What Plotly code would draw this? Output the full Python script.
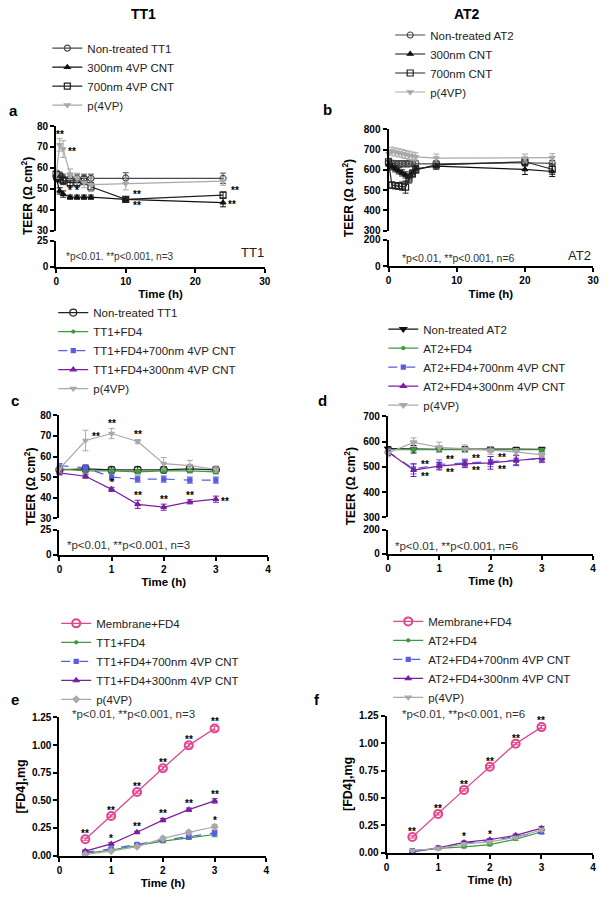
import plotly.graph_objects as go

W, H = 608, 900

# ---------------- data ----------------
# Panel a: TT1 TEER (0-24 h)
a_time = [0, 0.5, 1, 2, 3, 4, 5, 10, 24]
a_non = [56, 55, 55, 55, 55, 55, 55, 55.2, 55]
a_non_err = [2, 2, 2, 2, 2, 2, 2, 2.5, 2.5]
a_300 = [55, 49, 47.5, 46, 46, 46, 46, 45, 43.4]
a_300_err = [1.5, 1.5, 1.5, 1, 1, 1, 1, 1, 2]
a_700 = [57, 56, 54, 53, 53, 54, 51, 45, 47]
a_700_err = [1.5, 2, 2, 2, 2, 2, 2, 1, 1.5]
a_p4vp = [57, 71, 69, 57, 55, 53, 52, 52.5, 53.7]
a_p4vp_err = [2, 3, 4, 2.5, 2.5, 2.5, 3, 3, 2]
a_300_stars = ["", "", "", "*", "*", "", "", "**", "**"]
a_300_side = ["", "", "", "above", "above", "", "", "lr", "right"]
a_700_stars = ["", "", "", "", "", "", "", "**", "**"]
a_700_side = ["", "", "", "", "", "", "", "ur", "ur"]
a_p4vp_stars = ["", "**", "**", "", "", "", "", "", ""]
a_p4vp_side = ["", "above", "right", "", "", "", "", "", ""]

# Panel b: AT2 TEER (0-24 h)
b_time = [0, 0.5, 1, 1.5, 2, 2.5, 3, 3.5, 4, 7, 20, 24]
b_non = [635, 632, 630, 630, 630, 630, 630, 632, 632, 630, 635, 632]
b_non_err = [15, 15, 15, 15, 15, 15, 15, 15, 15, 15, 15, 15]
b_300 = [625, 615, 605, 595, 585, 575, 565, 585, 605, 618, 602, 592]
b_300_err = [15, 15, 15, 15, 15, 15, 15, 15, 15, 15, 25, 25]
b_700 = [640, 525, 522, 520, 520, 515, 555, 580, 600, 625, 640, 603]
b_700_err = [15, 15, 15, 15, 20, 30, 20, 15, 15, 15, 20, 25]
b_p4vp = [680, 692, 688, 684, 680, 676, 672, 668, 664, 658, 658, 660]
b_p4vp_err = [20, 20, 20, 20, 20, 20, 20, 20, 20, 20, 20, 20]

# Panel c: TT1 TEER (0-3 h)
c_time = [0, 0.5, 1, 1.5, 2, 2.5, 3]
c_non = [53.5, 54, 53.5, 53.5, 53.5, 54, 53.5]
c_non_err = [1.5, 1.5, 1.5, 1.5, 1.5, 1.5, 1.5]
c_fd4 = [54, 53, 53, 52.5, 53, 53, 52.5]
c_fd4_err = [1, 1, 1, 1, 1, 1, 1]
c_700 = [55.5, 54.5, 50, 49, 49, 48.5, 48.5]
c_700_err = [1, 1.5, 1.5, 1.5, 1.5, 1.5, 1.5]
c_300 = [52, 50.4, 44, 36.7, 35.3, 37.9, 39.2]
c_300_err = [1, 1, 1, 2, 1.5, 1, 1.5]
c_p4vp = [54, 67.8, 71.2, 67.3, 56.5, 55.6, 53.8]
c_p4vp_err = [2, 5, 2.5, 1, 3, 2.5, 1.5]
c_300_stars = ["", "", "*", "**", "**", "**", "**"]
c_300_side = ["", "", "above", "above", "above", "above", "right"]
c_p4vp_stars = ["", "**", "**", "**", "", "", ""]
c_p4vp_side = ["", "ur", "above", "above", "", "", ""]

# Panel d: AT2 TEER (0-3 h)
d_time = [0, 0.5, 1, 1.5, 2, 2.5, 3]
d_non = [573, 570, 570, 571, 570, 570, 570]
d_non_err = [8, 15, 10, 10, 10, 8, 8]
d_fd4 = [568, 568, 568, 568, 568, 568, 568]
d_fd4_err = [5, 5, 5, 5, 5, 5, 5]
d_700 = [560, 492, 510, 516, 521, 527, 532]
d_700_err = [15, 20, 18, 15, 20, 18, 15]
d_300 = [560, 487, 503, 512, 516, 525, 535]
d_300_err = [15, 25, 15, 15, 25, 20, 15]
d_p4vp = [555, 597, 578, 572, 565, 560, 548]
d_p4vp_err = [15, 18, 20, 15, 15, 12, 10]
d_700_stars = ["", "**", "**", "**", "**", "", ""]
d_700_side = ["", "ur", "ur", "ur", "ur", "", ""]
d_300_stars = ["", "**", "**", "**", "**", "", ""]
d_300_side = ["", "lr", "lr", "lr", "lr", "", ""]

# Panel e: TT1 FD4 permeation
e_time = [0.5, 1, 1.5, 2, 2.5, 3]
e_mem = [0.148, 0.358, 0.574, 0.789, 0.997, 1.149]
e_fd4 = [0.02, 0.05, 0.09, 0.13, 0.16, 0.19]
e_700 = [0.03, 0.06, 0.10, 0.14, 0.17, 0.205]
e_300 = [0.04, 0.105, 0.21, 0.32, 0.415, 0.494]
e_p4vp = [0.01, 0.04, 0.08, 0.155, 0.21, 0.26]
e_err = [0.01, 0.01, 0.01, 0.015, 0.015, 0.02]
e_mem_stars = ["**", "**", "**", "**", "**", "**"]
e_300_stars = ["", "*", "**", "**", "**", "**"]
e_p4vp_stars = ["", "", "", "", "", "*"]

# Panel f: AT2 FD4 permeation
f_time = [0.5, 1, 1.5, 2, 2.5, 3]
f_mem = [0.145, 0.355, 0.574, 0.785, 0.995, 1.146]
f_fd4 = [0.01, 0.04, 0.055, 0.075, 0.125, 0.19]
f_700 = [0.02, 0.045, 0.09, 0.11, 0.15, 0.19]
f_300 = [0.01, 0.045, 0.095, 0.12, 0.16, 0.225]
f_p4vp = [0.02, 0.04, 0.08, 0.1, 0.14, 0.21]
f_err = [0.01, 0.01, 0.01, 0.01, 0.01, 0.015]
f_mem_stars = ["**", "**", "**", "**", "**", "**"]
f_300_stars = ["", "", "*", "*", "", ""]

# ---------------- styles ----------------
FONT = "Liberation Sans, Arial, sans-serif"
PINK = "#E4448E"
GREEN = "#3C9A3C"
BLUE = "#5B5BE0"
PURPLE = "#7A1FA0"
LGRAY = "#A9A9A9"
DGRAY = "#4A4A4A"


def fx(px):
    return px / W


def fy(py):
    return 1 - py / H


fig = go.Figure()
annotations = []

# broken-axis panels: top axis -> bottom axis
BOTTOM = {"y2": ("x", "y"), "y4": ("x3", "y3"), "y6": ("x5", "y5"), "y8": ("x7", "y7")}


def axis_style(**kw):
    d = dict(showline=True, linecolor="black", linewidth=2, ticks="outside",
             ticklen=4, tickwidth=2, tickcolor="black", showgrid=False,
             zeroline=False,
             tickfont=dict(family=FONT, size=10, color="black", weight="bold"))
    d.update(kw)
    return d


def add_series(x, y, err, name, xa, ya, legend, color, symbol, size,
               dash="solid", lw=1.2, mlw=1.2):
    marker = dict(symbol=symbol, size=size, color=color,
                  line=dict(color=color, width=mlw))
    fig.add_trace(go.Scatter(
        x=x, y=y, mode="lines+markers", name=name, xaxis=xa, yaxis=ya,
        legend=legend, cliponaxis=False,
        line=dict(color=color, width=lw, dash=dash), marker=marker,
        error_y=dict(type="data", array=err, visible=err is not None,
                     color=color, thickness=1, width=3)))
    if ya in BOTTOM:
        bx, by = BOTTOM[ya]
        fig.add_trace(go.Scatter(
            x=x, y=y, mode="lines+markers", name=name, xaxis=bx, yaxis=by,
            showlegend=False, cliponaxis=True, hoverinfo="skip",
            line=dict(color=color, width=lw, dash=dash), marker=marker))


def add_stars(x, y, err, stars, sides, xa, ya, dx):
    for i, s in enumerate(stars):
        if not s:
            continue
        side = sides[i] if sides else "above"
        e = err[i] if err else 0
        a = dict(text=s, xref=xa, yref=ya, showarrow=False,
                 font=dict(family=FONT, size=10, color="#000", weight="bold"))
        if side == "above":
            a.update(x=x[i], y=y[i] + e, xanchor="center", yanchor="bottom", yshift=-3)
        elif side == "right":
            a.update(x=x[i], y=y[i], xanchor="left", yanchor="middle", xshift=3, yshift=-2)
        elif side == "ur":
            a.update(x=x[i] + dx, y=y[i], xanchor="left", yanchor="bottom", yshift=-3)
        elif side == "lr":
            a.update(x=x[i] + dx, y=y[i], xanchor="left", yanchor="top", yshift=1)
        annotations.append(a)


def text(px, py, s, size, xanchor="left", yanchor="middle", bold=False,
         color="black", angle=0):
    annotations.append(dict(
        text=s, x=fx(px), y=fy(py), xref="paper", yref="paper",
        showarrow=False, xanchor=xanchor, yanchor=yanchor, textangle=angle,
        font=dict(family=FONT, size=size, color=color,
                  weight="bold" if bold else "normal")))


# ---------------- panel a ----------------
add_series(a_time, a_non, a_non_err, "Non-treated TT1", "x2", "y2", "legend",
           DGRAY, "circle-open", 6)
add_series(a_time, a_300, a_300_err, "300nm 4VP CNT", "x2", "y2", "legend",
           "#111", "triangle-up", 5)
add_series(a_time, a_700, a_700_err, "700nm 4VP CNT", "x2", "y2", "legend",
           "#222", "square-open", 6)
add_series(a_time, a_p4vp, a_p4vp_err, "p(4VP)", "x2", "y2", "legend",
           LGRAY, "triangle-down", 5)
add_stars(a_time, a_300, a_300_err, a_300_stars, a_300_side, "x2", "y2", 0.8)
add_stars(a_time, a_700, a_700_err, a_700_stars, a_700_side, "x2", "y2", 0.8)
add_stars(a_time, a_p4vp, a_p4vp_err, a_p4vp_stars, a_p4vp_side, "x2", "y2", 0.8)

# ---------------- panel b ----------------
add_series(b_time, b_non, b_non_err, "Non-treated AT2", "x4", "y4", "legend2",
           DGRAY, "circle-open", 6)
add_series(b_time, b_300, b_300_err, "300nm CNT", "x4", "y4", "legend2",
           "#111", "triangle-up", 5)
add_series(b_time, b_700, b_700_err, "700nm CNT", "x4", "y4", "legend2",
           "#222", "square-open", 6)
add_series(b_time, b_p4vp, b_p4vp_err, "p(4VP)", "x4", "y4", "legend2",
           LGRAY, "triangle-down", 5)

# ---------------- panel c ----------------
add_series(c_time, c_non, c_non_err, "Non-treated TT1", "x6", "y6", "legend3",
           "#222", "circle-open", 7)
add_series(c_time, c_fd4, c_fd4_err, "TT1+FD4", "x6", "y6", "legend3",
           GREEN, "circle", 3)
add_series(c_time, c_700, c_700_err, "TT1+FD4+700nm 4VP CNT", "x6", "y6", "legend3",
           BLUE, "square", 4, dash="dash")
add_series(c_time, c_300, c_300_err, "TT1+FD4+300nm 4VP CNT", "x6", "y6", "legend3",
           PURPLE, "triangle-up", 5)
add_series(c_time, c_p4vp, c_p4vp_err, "p(4VP)", "x6", "y6", "legend3",
           LGRAY, "triangle-down", 5)
add_stars(c_time, c_300, c_300_err, c_300_stars, c_300_side, "x6", "y6", 0.08)
add_stars(c_time, c_p4vp, c_p4vp_err, c_p4vp_stars, c_p4vp_side, "x6", "y6", 0.08)

# ---------------- panel d ----------------
add_series(d_time, d_non, d_non_err, "Non-treated AT2", "x8", "y8", "legend4",
           "#111", "triangle-down", 6)
add_series(d_time, d_fd4, d_fd4_err, "AT2+FD4", "x8", "y8", "legend4",
           GREEN, "circle", 3)
add_series(d_time, d_700, d_700_err, "AT2+FD4+700nm 4VP CNT", "x8", "y8", "legend4",
           BLUE, "square", 4, dash="dash")
add_series(d_time, d_300, d_300_err, "AT2+FD4+300nm 4VP CNT", "x8", "y8", "legend4",
           PURPLE, "triangle-up", 5)
add_series(d_time, d_p4vp, d_p4vp_err, "p(4VP)", "x8", "y8", "legend4",
           LGRAY, "triangle-down", 6)
add_stars(d_time, d_700, None, d_700_stars, d_700_side, "x8", "y8", 0.1)
add_stars(d_time, d_300, None, d_300_stars, d_300_side, "x8", "y8", 0.1)

# ---------------- panel e ----------------
add_series(e_time, e_mem, e_err, "Membrane+FD4", "x9", "y9", "legend5",
           PINK, "circle-open", 8, lw=1.3, mlw=2)
add_series(e_time, e_fd4, e_err, "TT1+FD4", "x9", "y9", "legend5",
           GREEN, "circle", 3)
add_series(e_time, e_700, e_err, "TT1+FD4+700nm 4VP CNT", "x9", "y9", "legend5",
           BLUE, "square", 4, dash="dash")
add_series(e_time, e_300, e_err, "TT1+FD4+300nm 4VP CNT", "x9", "y9", "legend5",
           PURPLE, "triangle-up", 5)
add_series(e_time, e_p4vp, e_err, "p(4VP)", "x9", "y9", "legend5",
           LGRAY, "diamond", 5)
add_stars(e_time, e_mem, e_err, e_mem_stars, None, "x9", "y9", 0.1)
add_stars(e_time, e_300, e_err, e_300_stars, None, "x9", "y9", 0.1)
add_stars(e_time, e_p4vp, e_err, e_p4vp_stars, None, "x9", "y9", 0.1)

# ---------------- panel f ----------------
add_series(f_time, f_mem, f_err, "Membrane+FD4", "x10", "y10", "legend6",
           PINK, "circle-open", 8, lw=1.3, mlw=2)
add_series(f_time, f_fd4, f_err, "AT2+FD4", "x10", "y10", "legend6",
           GREEN, "circle", 3)
add_series(f_time, f_700, f_err, "AT2+FD4+700nm 4VP CNT", "x10", "y10", "legend6",
           BLUE, "square", 4, dash="dash")
add_series(f_time, f_300, f_err, "AT2+FD4+300nm 4VP CNT", "x10", "y10", "legend6",
           PURPLE, "triangle-up", 5)
add_series(f_time, f_p4vp, f_err, "p(4VP)", "x10", "y10", "legend6",
           LGRAY, "triangle-down", 5)
add_stars(f_time, f_mem, f_err, f_mem_stars, None, "x10", "y10", 0.1)
add_stars(f_time, f_300, f_err, f_300_stars, None, "x10", "y10", 0.1)

# ---------------- axes ----------------
layout = {}
TTL = dict(text="Time (h)", standoff=4,
           font=dict(family=FONT, size=11.5, color="black", weight="bold"))


def broken_panel(ix_bot, ix_top, xdom_px, top_px, bot_px, xrange, xticks,
                 top_range, top_ticks, bot_range, bot_ticks):
    sfx = "" if ix_bot == 1 else str(ix_bot)
    xd = [fx(xdom_px[0]), fx(xdom_px[1])]
    layout["xaxis" + sfx] = axis_style(domain=xd, range=xrange, tickvals=xticks,
                                       anchor="y" + sfx, title=TTL)
    layout["yaxis" + sfx] = axis_style(domain=[fy(bot_px[0]), fy(bot_px[1])],
                                       range=bot_range, tickvals=bot_ticks,
                                       anchor="x" + sfx)
    layout["xaxis" + str(ix_top)] = dict(domain=xd, range=xrange, visible=False,
                                         anchor="y" + str(ix_top))
    layout["yaxis" + str(ix_top)] = axis_style(domain=[fy(top_px[0]), fy(top_px[1])],
                                               range=top_range, tickvals=top_ticks,
                                               anchor="x" + str(ix_top))


broken_panel(1, 2, (54, 265.7), (227.7, 121.7), (264.3, 237.7), [0, 30],
             [0, 10, 20, 30], [30, 80], [30, 40, 50, 60, 70, 80], [0, 25], [0, 25])
broken_panel(3, 4, (391.3, 599), (227.7, 125), (264, 236.7), [0, 30],
             [0, 10, 20, 30], [300, 800], [300, 400, 500, 600, 700, 800],
             [0, 200], [0, 200])
broken_panel(5, 6, (57.3, 269), (519, 415), (556, 530.7), [0, 4],
             [0, 1, 2, 3, 4], [30, 80], [30, 40, 50, 60, 70, 80], [0, 25], [0, 25])
broken_panel(7, 8, (390.7, 599), (518.3, 416), (555.3, 530.7), [0, 4],
             [0, 1, 2, 3, 4], [300, 700], [300, 400, 500, 600, 700],
             [0, 200], [0, 200])

layout["xaxis9"] = axis_style(domain=[fx(57.3), fx(267.3)], range=[0, 4],
                              tickvals=[0, 1, 2, 3, 4], anchor="y9", title=TTL)
layout["yaxis9"] = axis_style(domain=[fy(861), fy(721)], range=[0, 1.25],
                              tickvals=[0, 0.25, 0.5, 0.75, 1.0, 1.25],
                              tickformat=".2f", anchor="x9")
layout["xaxis10"] = axis_style(domain=[fx(389.3), fx(599)], range=[0, 4],
                               tickvals=[0, 1, 2, 3, 4], anchor="y10", title=TTL)
layout["yaxis10"] = axis_style(domain=[fy(858.3), fy(719.3)], range=[0, 1.25],
                               tickvals=[0, 0.25, 0.5, 0.75, 1.0, 1.25],
                               tickformat=".2f", anchor="x10")


# ---------------- legends ----------------
def leg(px, py, size):
    return dict(x=fx(px), y=fy(py), xanchor="left", yanchor="top",
                bgcolor="rgba(0,0,0,0)", borderwidth=0, itemwidth=30,
                font=dict(family=FONT, size=size, color="#222"),
                tracegroupgap=0, itemclick=False)


layout["legend"] = leg(45, 28, 11.5)
layout["legend2"] = leg(393, 14.7, 11.5)
layout["legend3"] = leg(51, 296, 11.5)
layout["legend4"] = leg(386, 312.7, 11.5)
layout["legend5"] = leg(54, 611, 11.5)
layout["legend6"] = leg(391, 609, 11.5)

# ---------------- text ----------------
text(143, 8, "TT1", 14, xanchor="center", bold=True)
text(470.7, 8, "AT2", 14, xanchor="center", bold=True)
for px, py, s in [(11, 106, "a"), (329, 105, "b"), (12, 400, "c"),
                  (324, 400, "d"), (12, 703, "e"), (319, 703, "f")]:
    text(px, py, s, 15, xanchor="center", bold=True)

TEER = "TEER (Ω cm<sup>2</sup>)"
text(25, 193, TEER, 12, xanchor="center", bold=True, angle=-90)
text(351, 195, TEER, 12, xanchor="center", bold=True, angle=-90)
text(26.7, 487, TEER, 12, xanchor="center", bold=True, angle=-90)
text(352, 487, TEER, 12, xanchor="center", bold=True, angle=-90)
text(18.3, 791, "[FD4],mg", 12.5, xanchor="center", bold=True, angle=-90)
text(350.7, 789, "[FD4],mg", 12.5, xanchor="center", bold=True, angle=-90)

text(62, 254.3, "*p<0.01. **p<0.001, n=3", 10, color="#333")
text(253, 250, "TT1", 13, xanchor="center", color="#222")
text(403, 255, "*p<0.01, **p<0.001, n=6", 10.5, color="#333")
text(585.5, 253, "AT2", 13, xanchor="center", color="#222")
text(63, 546.7, "*p<0.01, **p<0.001, n=3", 11.5, color="#333")
text(395.7, 547.3, "*p<0.01, **p<0.001, n=6", 11.5, color="#333")
text(68, 718, "*p<0.01, **p<0.001, n=3", 11.5, color="#333")
text(403, 718, "*p<0.01, **p<0.001, n=6", 11.5, color="#333")

fig.update_layout(
    width=W, height=H, margin=dict(l=0, r=0, t=0, b=0),
    paper_bgcolor="white", plot_bgcolor="white",
    font=dict(family=FONT, color="black"),
    annotations=annotations, **layout)

fig.write_html(
    "out.html",
    config={"displayModeBar": False},
    post_script="document.body.style.margin='0';"
                "document.documentElement.style.overflow='hidden';")
